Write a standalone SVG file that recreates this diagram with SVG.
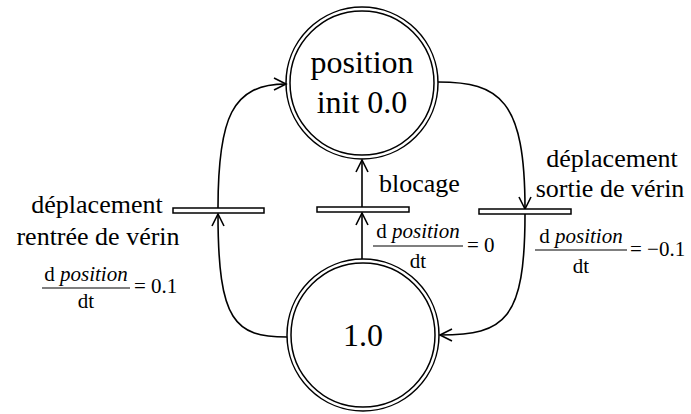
<svg xmlns="http://www.w3.org/2000/svg" width="691" height="414" viewBox="0 0 691 414">
<defs>
<style>
.c{fill:none;stroke:#000;stroke-width:1.5}
.bar{fill:#fff;stroke:#000;stroke-width:1.5}
.e{fill:none;stroke:#000;stroke-width:1.6}
.t{fill:#000}
.big{font-size:32px;text-anchor:middle}
.lab{font-size:26px}
.f{font-size:21px}
.fl{stroke:#000;stroke-width:1.2}
</style>
<marker id="arr" markerUnits="userSpaceOnUse" markerWidth="16" markerHeight="16" refX="13" refY="7" orient="auto" viewBox="0 0 16 14">
<path d="M1,1 L13,7 L1,13" fill="none" stroke="#000" stroke-width="1.6"/>
</marker>
</defs>
<rect width="691" height="414" fill="#fff"/>
<g id="connectors">
<path class="e" d="M287,337 C235,337 218,322 218,214" marker-end="url(#arr)"/>
<path class="e" d="M218,208 C218,118 232,84 286,84" marker-end="url(#arr)"/>
<path class="e" d="M362,259 L362,213" marker-end="url(#arr)"/>
<path class="e" d="M362,207 L362,160" marker-end="url(#arr)"/>
<path class="e" d="M438,82 C500,82 525,100 525,209" marker-end="url(#arr)"/>
<path class="e" d="M525,214 C525,320 505,335 440,335" marker-end="url(#arr)"/>
</g>
<g font-family="Liberation Serif, DejaVu Serif, serif">
<g id="p0">
<circle class="c" cx="362" cy="83" r="76"/>
<circle class="c" cx="362" cy="83" r="72"/>
<text class="t big" x="362" y="73">position</text>
<text class="t big" x="362" y="113">init 0.0</text>
</g>
<g id="p1">
<circle class="c" cx="363" cy="335" r="76"/>
<circle class="c" cx="363" cy="335" r="72"/>
<text class="t big" x="363" y="346">1.0</text>
</g>
<g id="t_rentree">
<rect class="bar" x="173" y="208" width="91" height="5"/>
<text class="t lab" x="97" y="213" text-anchor="middle">déplacement</text>
<text class="t lab" x="98" y="245" text-anchor="middle">rentrée de vérin</text>
<text class="t f" x="86" y="281" text-anchor="middle">d <tspan font-style="italic">position</tspan></text>
<line class="fl" x1="42" y1="288" x2="130" y2="288"/>
<text class="t f" x="86" y="308" text-anchor="middle">dt</text>
<text class="t f" x="134" y="293">= 0.1</text>
</g>
<g id="t_blocage">
<rect class="bar" x="317" y="207" width="92" height="5"/>
<text class="t lab" x="379" y="192">blocage</text>
<text class="t f" x="418" y="238" text-anchor="middle">d <tspan font-style="italic">position</tspan></text>
<line class="fl" x1="373" y1="246" x2="463" y2="246"/>
<text class="t f" x="418" y="268" text-anchor="middle">dt</text>
<text class="t f" x="467" y="252">= 0</text>
</g>
<g id="t_sortie">
<rect class="bar" x="479" y="209" width="92" height="5"/>
<text class="t lab" x="612" y="167" text-anchor="middle">déplacement</text>
<text class="t lab" x="610" y="197" text-anchor="middle">sortie de vérin</text>
<text class="t f" x="581" y="243" text-anchor="middle">d <tspan font-style="italic">position</tspan></text>
<line class="fl" x1="535" y1="250" x2="627" y2="250"/>
<text class="t f" x="581" y="273" text-anchor="middle">dt</text>
<text class="t f" x="630" y="256">= −0.1</text>
</g>
</g>
</svg>
